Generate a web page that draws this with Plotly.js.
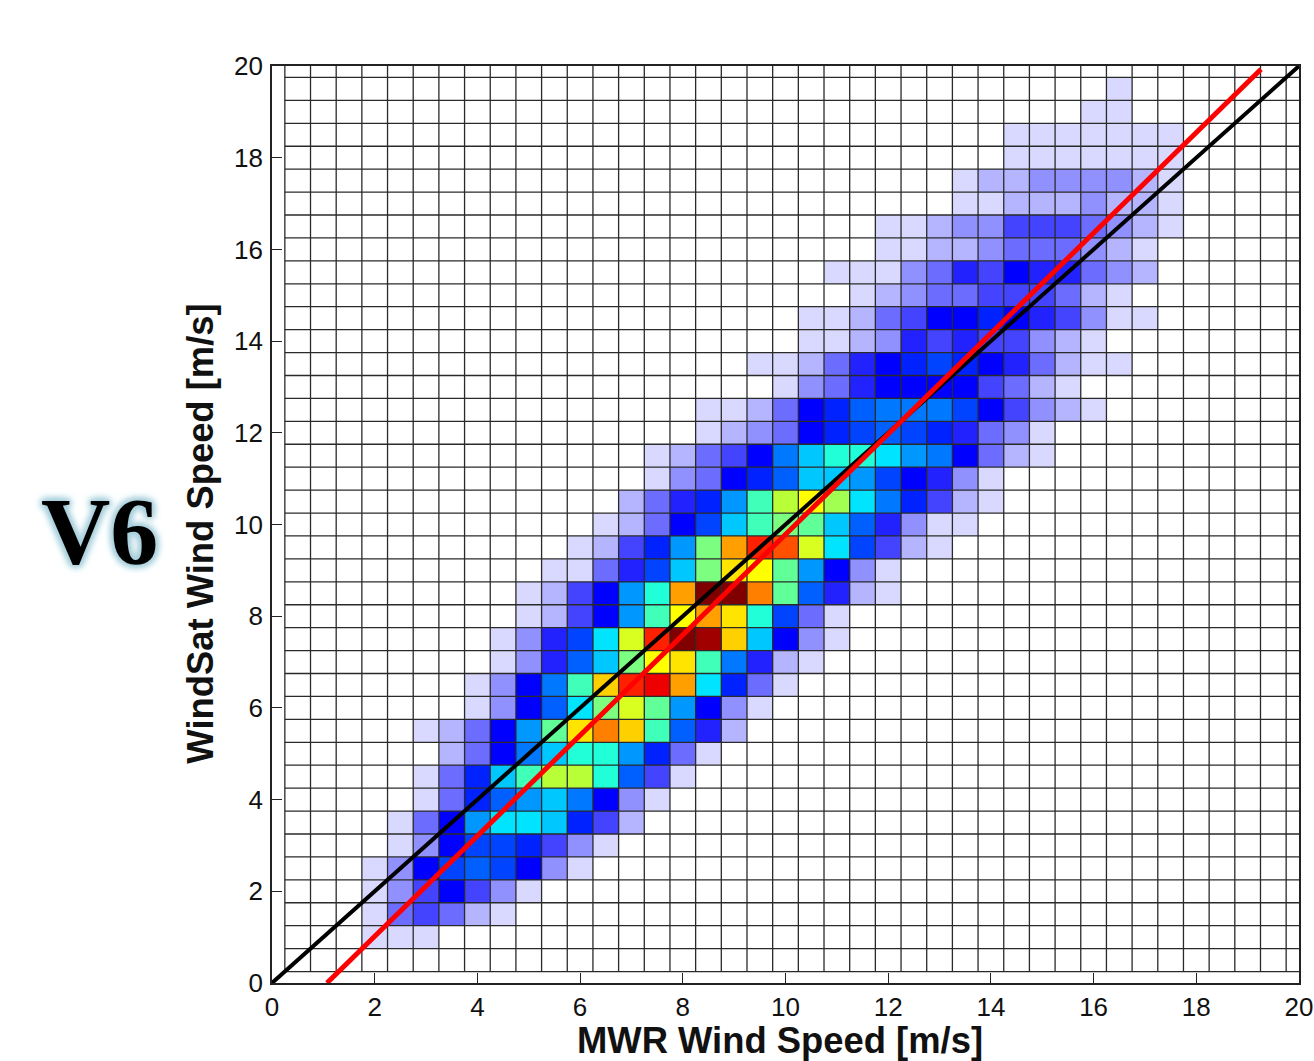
<!DOCTYPE html>
<html>
<head>
<meta charset="utf-8">
<script src="https://cdn.plot.ly/plotly-3.0.1.min.js"></script>
<style>
html,body{margin:0;padding:0;background:#fff}
#chart{width:1314px;height:1061px}
.g-ytitle{transform:translate(5px,9px)}
.g-xtitle{transform:translate(-5.5px,-7px)}
</style>
</head>
<body>
<div id="chart"></div>
<script>
// Grid of bin centres: 0, 0.5, ... 20 on both axes
const binStep = 0.5;
const binCount = 41;
const tickLabels = ["0","2","4","6","8","10","12","14","16","18","20"];
const xTitle = "MWR Wind Speed [m/s]";
const yTitle = "WindSat Wind Speed [m/s]";
const versionLabel = "V6";

// Colour level per bin. rowIndex = y / 0.5, rowStart = first column index (x / 0.5).
const rowIndex = [2,3,4,5,6,7,8,9,10,11,12,13,14,15,16,17,18,19,20,21,22,23,24,25,26,27,28,29,30,31,32,33,34,35,36,37,38,39];
const rowStart = [4,4,4,4,5,5,6,6,7,6,8,8,9,9,10,10,11,12,13,14,15,15,17,17,20,19,21,21,23,22,24,24,27,27,29,29,32,33];
const rowLevels = [
  [1,1,1],
  [1,4,5,4,2,1],
  [1,3,5,7,5,3,1],
  [1,3,7,9,10,9,7,3,1],
  [1,3,7,9,9,8,5,3,1],
  [1,4,7,12,14,14,13,8,5,2],
  [1,4,8,10,12,13,11,7,3,1],
  [1,4,8,13,16,20,20,15,10,5,1],
  [2,4,7,11,13,15,15,12,8,4,1],
  [1,2,4,7,12,17,23,26,24,16,10,6,2],
  [1,3,7,10,14,18,21,17,12,7,3,1],
  [1,3,7,11,16,24,28,29,25,14,8,4,1],
  [1,3,6,10,13,18,22,23,16,11,6,2,1],
  [1,3,6,9,14,21,28,31,30,24,13,7,3,1],
  [1,2,5,7,12,16,22,25,23,15,9,4,1],
  [1,2,5,7,12,15,25,31,31,26,17,10,6,2,1],
  [1,1,4,6,9,13,18,23,22,17,12,7,3,1],
  [1,2,5,8,12,18,25,28,27,21,14,9,5,2,1],
  [1,2,4,7,9,13,16,18,17,13,10,6,3,1,1],
  [2,4,6,8,12,16,20,22,19,14,11,8,5,2,1],
  [1,3,4,7,8,10,13,13,12,9,7,6,3,1],
  [1,2,4,5,7,11,13,15,15,14,12,11,7,4,2,1],
  [1,2,3,4,7,8,9,10,9,8,6,4,3,1],
  [1,1,2,4,7,8,10,11,11,11,9,7,5,3,2,1],
  [1,3,4,6,7,7,7,7,5,4,2,1],
  [1,1,2,4,6,7,8,9,8,7,6,4,2,1,1],
  [1,1,2,3,6,5,6,5,5,3,2,1],
  [1,1,2,4,5,7,7,8,7,6,5,3,1,1],
  [1,2,3,4,4,5,5,5,4,2,1],
  [1,1,1,3,4,6,5,7,6,6,4,3,2],
  [1,1,2,2,3,4,4,4,3,2,1],
  [1,1,2,3,3,5,5,5,4,3,2,1],
  [1,1,2,2,2,3,2,2,1],
  [1,2,2,3,3,3,3,2,1],
  [1,1,1,1,1,1,1],
  [1,1,1,1,1,1,1],
  [1,1],
  [1]
];
const levelColors = [
  "#ffffff","#d9d9ff","#b4b4ff","#9090ff","#6c6cff","#4444ff","#2222ff","#0000ff",
  "#0022ff","#0044ff","#0060ff","#0078ff","#0098ff","#00c8ff","#00e4ff","#20ffd8",
  "#40ffb8","#60ff98","#7cff80","#a0ff50","#b8ff38","#d8ff20","#ffff00","#ffe400",
  "#ffd000","#ffa000","#ff8000","#ff5000","#ff2000","#ee0000","#a00000","#800000"
];
// Regression line end points and 1:1 line
const oneToOneX = [0,20];
const oneToOneY = [0,20];
const fitX = [1.07,19.26];
const fitY = [0,19.93];

const bins = [];
for (let i = 0; i < binCount; i++) bins.push(i * binStep);
const z = bins.map(() => bins.map(() => 0));
rowIndex.forEach((j, r) => rowLevels[r].forEach((v, c) => { z[j][rowStart[r] + c] = v; }));

const maxLevel = levelColors.length - 1;
const colorscale = levelColors.map((c, i) => [i / maxLevel, c]);

// Cell outlines run along the bin edges
const gridX = [], gridY = [];
const edgeStart = binStep / 2, axisMax = 20;
for (let e = edgeStart; e < axisMax; e += binStep) {
  gridX.push(e, e, null); gridY.push(edgeStart, axisMax, null);
  gridX.push(edgeStart, axisMax, null); gridY.push(e, e, null);
}

const traces = [
  {type:"heatmap", x:bins, y:bins, z:z, zmin:0, zmax:maxLevel, colorscale:colorscale, showscale:false, hoverinfo:"x+y+z"},
  {type:"scatter", mode:"lines", x:gridX, y:gridY, line:{color:"#2a2a2a", width:1.3}, hoverinfo:"skip", showlegend:false},
  {type:"scatter", mode:"lines", x:oneToOneX, y:oneToOneY, line:{color:"#000000", width:4}, showlegend:false},
  {type:"scatter", mode:"lines", x:fitX, y:fitY, line:{color:"#ff0000", width:5}, showlegend:false}
];

const tickVals = tickLabels.map(Number);
const axisBase = {
  range:[0,20], tickmode:"array", tickvals:tickVals, ticktext:tickLabels,
  ticks:"inside", ticklen:10, tickwidth:1, tickcolor:"#222",
  showgrid:false, zeroline:false, showline:true, mirror:true, linecolor:"#222", linewidth:1.6,
  tickfont:{family:"Liberation Sans, Arial, sans-serif", size:26, color:"#111"}
};
const layout = {
  width:1314, height:1061, paper_bgcolor:"#fff", plot_bgcolor:"#fff", showlegend:false,
  margin:{l:271.5, r:14.7, t:66, b:77.7},
  xaxis:Object.assign({}, axisBase, {title:{text:xTitle, standoff:14, font:{family:"Liberation Sans, Arial, sans-serif", size:36.4, color:"#111", weight:"bold"}}}),
  yaxis:Object.assign({}, axisBase, {ticklabelstandoff:2, ticklabelshift:-2.5, title:{text:yTitle, standoff:14, font:{family:"Liberation Sans, Arial, sans-serif", size:36.4, color:"#111", weight:"bold"}}}),
  annotations:[{
    text:versionLabel, xref:"paper", yref:"paper", x:-0.168, y:0.492,
    xanchor:"center", yanchor:"middle", showarrow:false,
    font:{family:"Liberation Serif, serif", size:96, color:"#000", weight:"bold",
          shadow:"0 0 4px #a8d0dc, 0 0 6px #a8d0dc, 0 0 8px #a8d0dc, 0 0 10px #a8d0dc, 0 0 10px #a8d0dc"}
  }]
};
Plotly.newPlot("chart", traces, layout, {displayModeBar:false, responsive:false});
</script>
</body>
</html>
